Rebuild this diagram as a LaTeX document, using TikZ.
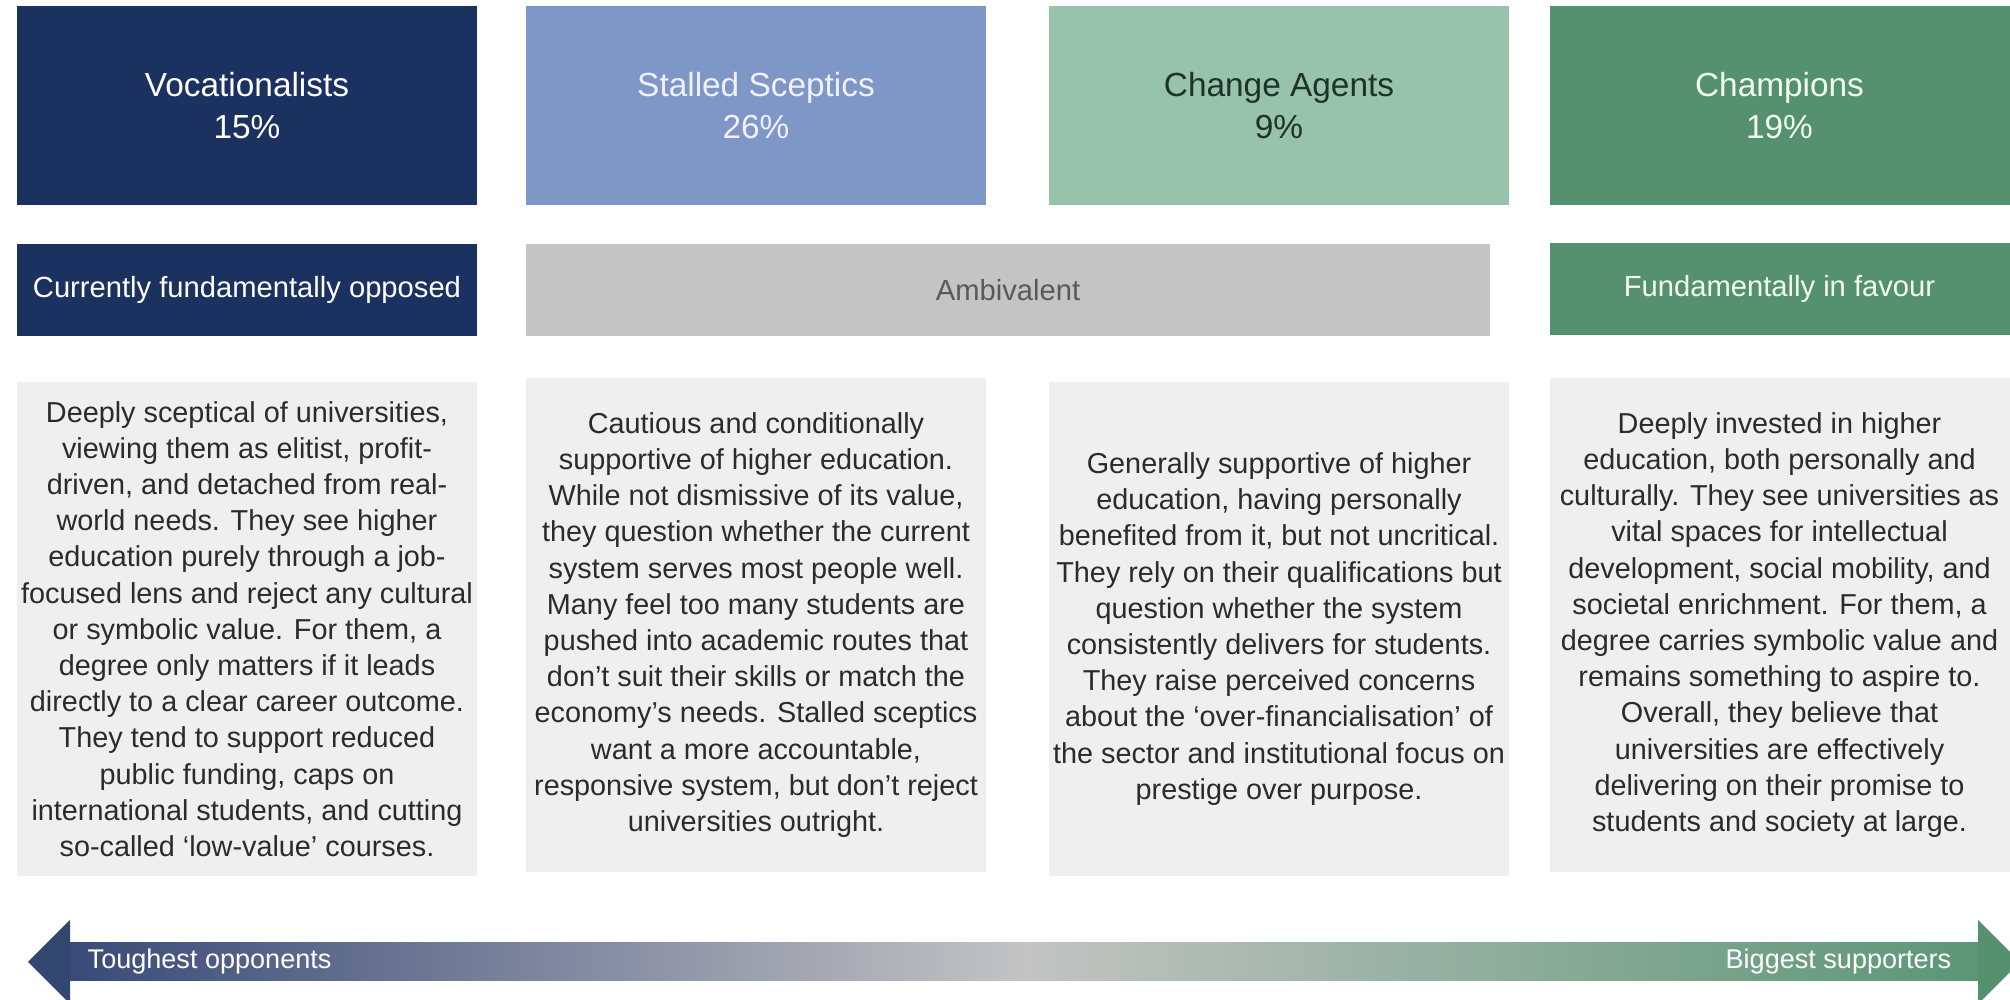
\documentclass[tikz,border=0pt]{standalone}
\usepackage{fontspec}
\setmainfont{Liberation Sans}
\usepackage{tikz}

\definecolor{vocnavy}{HTML}{1B3160}
\definecolor{sceptblue}{HTML}{7F97C6}
\definecolor{agentgreen}{HTML}{97C2AB}
\definecolor{champgreen}{HTML}{55906F}
\definecolor{ambgrey}{HTML}{C4C4C4}
\definecolor{descgrey}{HTML}{EFEFEF}
\definecolor{desctext}{HTML}{2B2B2B}
\definecolor{agenttext}{HTML}{1D3329}
\definecolor{shaftleft}{HTML}{3A4A78}
\definecolor{shaftmid}{HTML}{C3C3C3}
\definecolor{shaftright}{HTML}{5B9676}

\begin{document}
\begin{tikzpicture}[
  topbox/.style={minimum width=4.6cm, minimum height=1.99cm, inner sep=0pt, align=center,
    text=white, font=\fontsize{9.5}{11.9}\selectfont},
  tagbox/.style={minimum height=0.92cm, inner sep=0pt, align=center,
    text=white, font=\fontsize{8.3}{10}\selectfont},
  descbox/.style={fill=descgrey, minimum width=4.6cm, minimum height=4.94cm, inner sep=0pt,
    align=center, text=desctext, font=\fontsize{8.2}{10.3}\selectfont},
  arrowlabel/.style={text=white, inner sep=0pt, font=\fontsize{7.7}{9}\selectfont}]
\useasboundingbox (0,0) rectangle (20.1,10);

% segment boxes
\node[topbox, fill=vocnavy] (voc) at (2.47,8.945) {Vocationalists\\15\%};
\node[topbox, fill=sceptblue, text=white!94!blue] (scept) at (7.56,8.945) {Stalled Sceptics\\26\%};
\node[topbox, fill=agentgreen, text=agenttext] (agent) at (12.79,8.945) {Change Agents\\9\%};
\node[topbox, fill=champgreen, text=white!94!green] (champ) at (17.795,8.945) {Champions\\19\%};

% attitude bands
\node[tagbox, fill=vocnavy, minimum width=4.6cm] (opposed) at (2.47,7.10) {Currently fundamentally opposed};
\node[tagbox, fill=ambgrey, minimum width=9.64cm, text=black!65] (ambiv) at (10.08,7.10) {Ambivalent};
\node[tagbox, fill=champgreen, minimum width=4.6cm, text=white!94!green] (favour) at (17.795,7.11) {Fundamentally in favour};

% descriptions
\node[descbox] (vocdesc) at (2.47,3.71) {Deeply sceptical of universities,\\
viewing them as elitist, profit-\\
driven, and detached from real-\\
world needs. They see higher\\
education purely through a job-\\
focused lens and reject any cultural\\
or symbolic value. For them, a\\
degree only matters if it leads\\
directly to a clear career outcome.\\
They tend to support reduced\\
public funding, caps on\\
international students, and cutting\\
so-called `low-value' courses.};
\node[descbox] (sceptdesc) at (7.56,3.75) {Cautious and conditionally\\
supportive of higher education.\\
While not dismissive of its value,\\
they question whether the current\\
system serves most people well.\\
Many feel too many students are\\
pushed into academic routes that\\
don't suit their skills or match the\\
economy's needs. Stalled sceptics\\
want a more accountable,\\
responsive system, but don't reject\\
universities outright.};
\node[descbox] (agentdesc) at (12.79,3.71) {Generally supportive of higher\\
education, having personally\\
benefited from it, but not uncritical.\\
They rely on their qualifications but\\
question whether the system\\
consistently delivers for students.\\
They raise perceived concerns\\
about the `over-financialisation' of\\
the sector and institutional focus on\\
prestige over purpose.};
\node[descbox] (champdesc) at (17.795,3.75) {Deeply invested in higher\\
education, both personally and\\
culturally. They see universities as\\
vital spaces for intellectual\\
development, social mobility, and\\
societal enrichment. For them, a\\
degree carries symbolic value and\\
remains something to aspire to.\\
Overall, they believe that\\
universities are effectively\\
delivering on their promise to\\
students and society at large.};

% opponents -- supporters scale
\shade[left color=shaftleft, right color=shaftright, middle color=shaftmid] (0.70,0.19) rectangle (19.78,0.57);
\fill[vocnavy!90!white] (0.28,0.38) -- (0.70,0.80) -- (0.70,-0.04) -- cycle;
\fill[champgreen] (20.2,0.38) -- (19.78,0.80) -- (19.78,-0.04) -- cycle;
\node[arrowlabel, anchor=west] (tough) at (0.87,0.38) {Toughest opponents};
\node[arrowlabel, anchor=east] (biggest) at (19.52,0.38) {Biggest supporters};
\end{tikzpicture}
\end{document}
